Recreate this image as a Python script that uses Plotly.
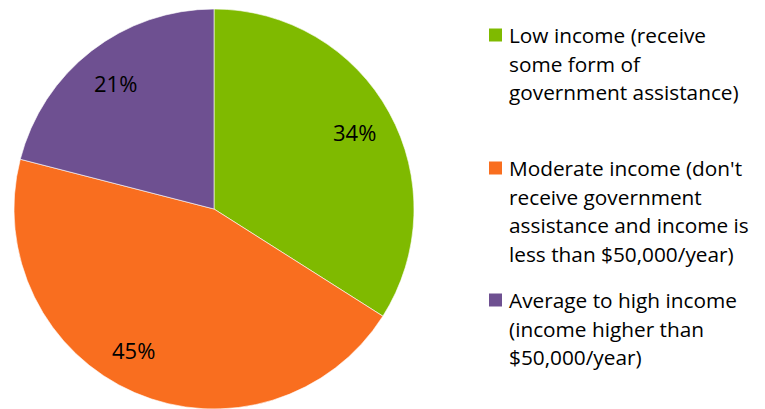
import math
import plotly.graph_objects as go

W, H = 765, 409

categories = [
    "Low income (receive some form of government assistance)",
    "Moderate income (don't receive government assistance and income is less than $50,000/year)",
    "Average to high income (income higher than $50,000/year)",
]
shares = [34, 45, 21]
legend_lines = [
    ["Low income (receive", "some form of", "government assistance)"],
    ["Moderate income (don't", "receive government", "assistance and income is", "less than $50,000/year)"],
    ["Average to high income", "(income higher than", "$50,000/year)"],
]
colors = ["#7fba00", "#f96e1f", "#6e5091"]

FONT = "Open Sans"
LEGEND_FS = 20.8
LABEL_FS = 22

# pie geometry in pixels
cx, cy, R = 214, 209, 200
# data labels sit at 80% of the radius; the largest slice's label is nudged along the arc
label_radius = [0.8, 0.81, 0.8]
label_turn_deg = [0, 6.4, 0]

fig = go.Figure(go.Pie(
    labels=categories,
    values=shares,
    sort=False,
    direction="clockwise",
    rotation=0,
    marker=dict(colors=colors, line=dict(color="white", width=0.6)),
    textinfo="none",
    hoverinfo="label+percent",
    showlegend=False,
    domain=dict(x=[(cx - R) / W, (cx + R) / W], y=[(H - cy - R) / H, (H - cy + R) / H]),
))

annotations = []
total = sum(shares)
cum = 0
for v, rf, turn in zip(shares, label_radius, label_turn_deg):
    mid = (cum + v / 2) / total * 2 * math.pi + math.radians(turn)
    cum += v
    px = cx + rf * R * math.sin(mid)
    py = cy - rf * R * math.cos(mid)
    annotations.append(dict(
        x=px / W, y=1 - py / H, xref="paper", yref="paper",
        text=f"{round(v / total * 100)}%", showarrow=False,
        font=dict(family=FONT, size=LABEL_FS, color="black"),
        xanchor="center", yanchor="middle",
    ))

# legend: colour swatch plus wrapped text lines
item_tops = [35, 168, 300]
line_gap = 28.7
text_x = 507
shapes = []
for color, lines, y0 in zip(colors, legend_lines, item_tops):
    shapes.append(dict(
        type="rect", xref="paper", yref="paper",
        x0=489 / W, x1=502 / W, y0=1 - (y0 - 6.5) / H, y1=1 - (y0 + 6.5) / H,
        fillcolor=color, line=dict(width=0),
    ))
    for i, line in enumerate(lines):
        ly = y0 + i * line_gap
        annotations.append(dict(
            x=text_x / W, y=1 - ly / H, xref="paper", yref="paper",
            text=line, showarrow=False,
            font=dict(family=FONT, size=LEGEND_FS, color="black"),
            xanchor="left", yanchor="middle",
        ))

fig.update_layout(
    width=W, height=H,
    margin=dict(l=0, r=0, t=0, b=0),
    paper_bgcolor="white", plot_bgcolor="white",
    annotations=annotations, shapes=shapes,
)

fig.write_html("out.html")
